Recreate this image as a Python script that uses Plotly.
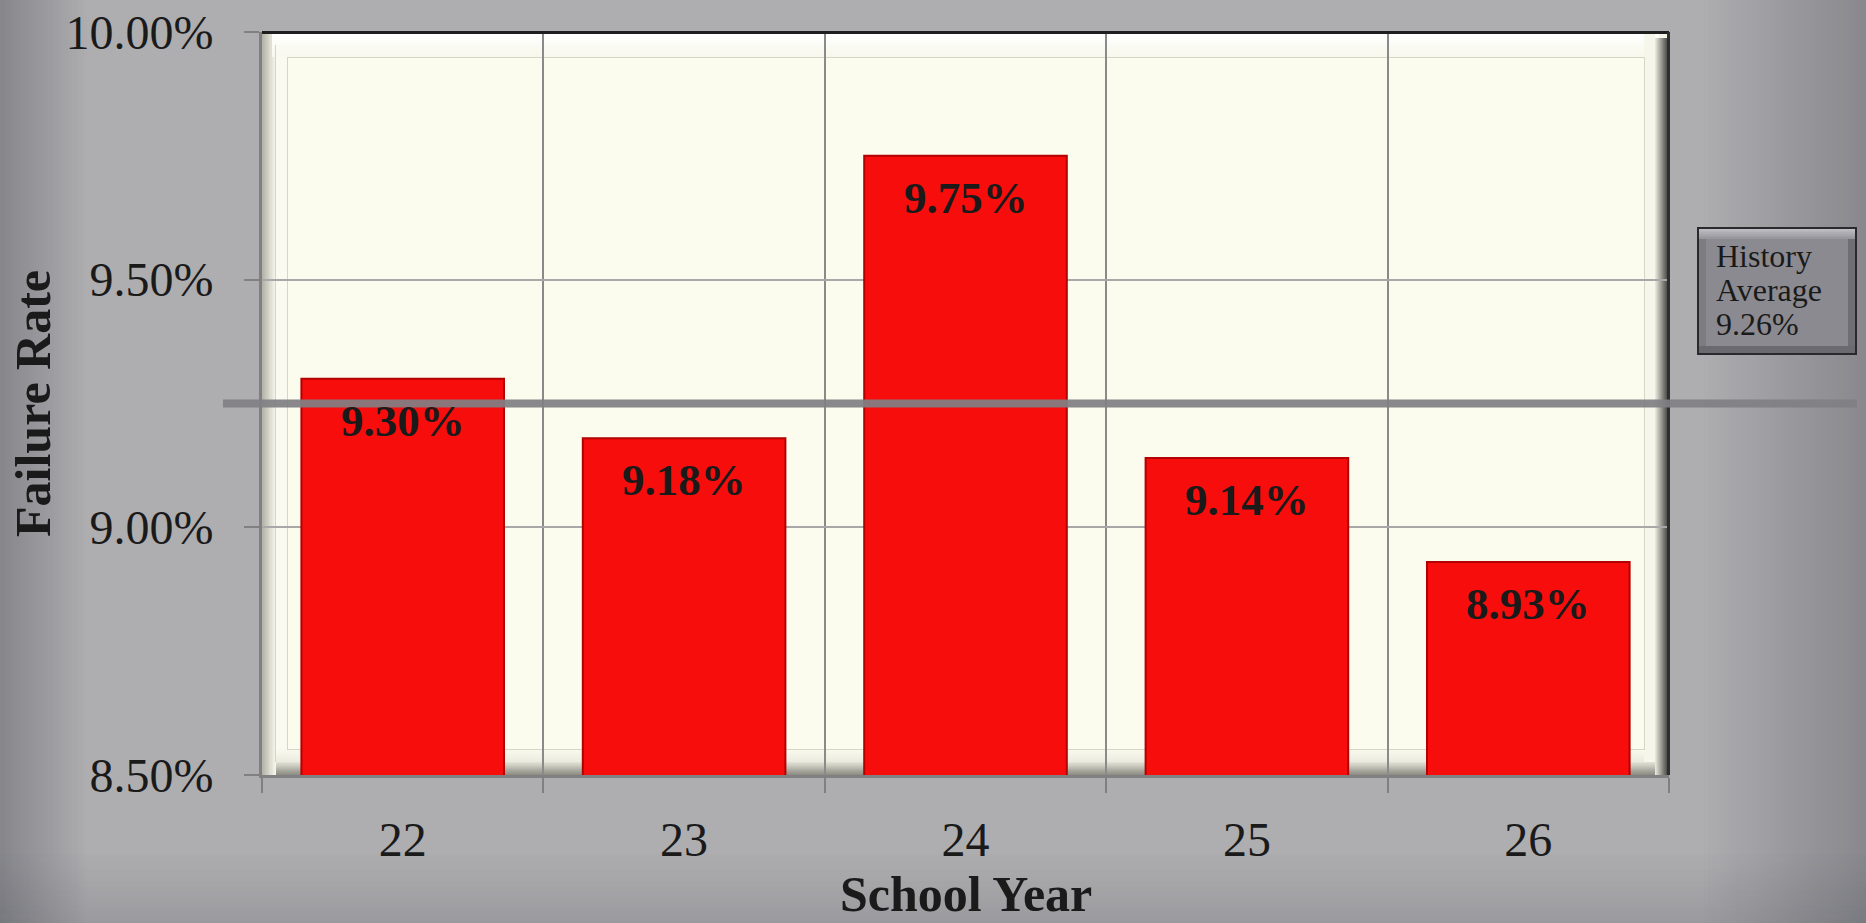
import plotly.graph_objects as go

# ---------------- data ----------------
school_years = ["22", "23", "24", "25", "26"]
failure_rate = [9.30, 9.18, 9.75, 9.14, 8.93]
y_tick_values = [8.5, 9.0, 9.5, 10.0]
y_tick_labels = ["8.50%", "9.00%", "9.50%", "10.00%"]
history_average = 9.26          # value shown in the side box
average_line = 9.25             # level of the drawn average line
x_title = "School Year"
y_title = "Failure Rate"
box_lines = ["History", "Average", f"{history_average:.2f}%"]

# ---------------- geometry / style ----------------
W, H = 1866, 923
L, R, T, B = 262, 1669, 32, 775
FONT = "Liberation Serif"
TXT = "#1a1a1a"


def px(x):
    """page pixel x -> plotly paper coordinate"""
    return (x - L) / (R - L)


def py(y):
    """page pixel y -> plotly paper coordinate"""
    return (B - y) / (B - T)


def hex2rgb(h):
    h = h.lstrip("#")
    return tuple(int(h[i:i + 2], 16) for i in (0, 2, 4))


def mix(c0, c1, t):
    a, b = hex2rgb(c0), hex2rgb(c1)
    return "rgb(%d,%d,%d)" % tuple(round(a[i] + (b[i] - a[i]) * t) for i in range(3))


shapes = []


def rect(x0, y0, x1, y1, fill, layer="below"):
    shapes.append(dict(type="rect", xref="paper", yref="paper",
                       x0=px(x0), x1=px(x1), y0=py(y0), y1=py(y1),
                       fillcolor=fill, line=dict(width=0), layer=layer))


def hgrad(x0, x1, y0, y1, c0, c1, n=16, layer="below"):
    step = (x1 - x0) / n
    for i in range(n):
        rect(x0 + i * step, y0, x0 + (i + 1) * step + 0.8, y1, mix(c0, c1, i / (n - 1)), layer)


def vgrad(x0, x1, y0, y1, c0, c1, n=16, layer="below"):
    step = (y1 - y0) / n
    for i in range(n):
        rect(x0, y0 + i * step, x1, y0 + (i + 1) * step + 0.8, mix(c0, c1, i / (n - 1)), layer)


BG = "#aeaeb0"
# page background gradients (darkening toward the edges)
hgrad(0, 90, 0, H, "#86868c", BG, n=30)
hgrad(1700, W, 0, H, BG, "#88888e", n=41)
# translucent bottom shading, integer 3-px strips without overlap
for i in range(24):
    y0 = 851 + 3 * i
    rect(0, y0, W, y0 + 3, "rgba(30,30,45,%.3f)" % (0.13 * i / 23))

# plot-area bevel frame
CREAM = "#fcfcee"
rect(L, T, R, B, "#f4f4e8")
hgrad(L, L + 14, T, B, "#b4b4aa", "#f6f6ea", n=10)          # left band
rect(L + 14, T, L + 26, B, "#fafaf0")
vgrad(L + 10, R - 10, T, T + 24, "#ffffff", "#f8f8ee", n=8)  # top band
vgrad(L + 14, R - 12, B - 26, B - 13, "#f8f8ec", "#ecece0", n=6)  # bottom band
vgrad(L + 14, R - 12, B - 13, B, "#e0e0d4", "#8e8e86", n=10)
rect(R - 25, T, R - 14, B - 13, "#f6f6ea")                 # right band
hgrad(R - 14, R, T + 6, B, "#e6e6da", "#3c3c3a", n=12)
for (x0, y0, x1, y1) in [(L + 25, T + 25, R - 24, T + 26), (L + 25, T + 25, L + 26, B - 25),
                         (R - 25, T + 25, R - 24, B - 25), (L + 25, B - 26, R - 24, B - 25),
                         (L + 13, T + 13, L + 14, B - 13)]:
    rect(x0, y0, x1, y1, "#d6d6c8")
rect(L + 26, T + 26, R - 25, B - 26, CREAM)
# top and right dark border
rect(L, T - 1, R, T + 2, "#1e1e1e", layer="above")
rect(R - 2, T, R + 1, B, "#2e2e2e", layer="above")

# History average box (bevelled)
bx0, by0, bx1, by1 = 1697, 227, 1857, 355
rect(bx0, by0, bx1, by1, "#2a2a2c", layer="above")
vgrad(bx0 + 2, bx1 - 2, by0 + 2, by0 + 12, "#bdbdc2", "#96969c", n=6, layer="above")
rect(bx0 + 2, by0 + 12, bx0 + 9, by1 - 2, "#7c7c82", layer="above")
rect(bx1 - 9, by0 + 12, bx1 - 2, by1 - 2, "#6e6e74", layer="above")
rect(bx0 + 2, by1 - 9, bx1 - 2, by1 - 2, "#6a6a70", layer="above")
rect(bx0 + 9, by0 + 12, bx1 - 9, by1 - 9, "#8a8a90", layer="above")

# average line
shapes.append(dict(type="line", xref="paper", yref="y",
                   x0=px(223), x1=px(1857), y0=average_line, y1=average_line,
                   line=dict(color="rgba(128,128,132,0.93)", width=8), layer="above"))

fig = go.Figure(go.Bar(
    x=school_years, y=failure_rate, width=0.72,
    marker=dict(color="#f80d0d", line=dict(color="#b30000", width=2)),
    hoverinfo="x+y",
))

annotations = []
for i, v in enumerate(failure_rate):
    annotations.append(dict(x=i, y=v, xref="x", yref="y", text=f"<b>{v:.2f}%</b>",
                            showarrow=False, yanchor="top", yshift=-15,
                            font=dict(family=FONT, size=45, color=TXT)))

annotations.append(dict(x=0.5, y=py(894), xref="paper", yref="paper",
                        text=f"<b>{x_title}</b>", showarrow=False,
                        xanchor="center", yanchor="middle",
                        font=dict(family=FONT, size=50, color=TXT)))
annotations.append(dict(x=px(33), y=py(403), xref="paper", yref="paper",
                        text=f"<b>{y_title}</b>", showarrow=False, textangle=-90,
                        xanchor="center", yanchor="middle",
                        font=dict(family=FONT, size=50, color=TXT)))
for k, line in enumerate(box_lines):
    annotations.append(dict(x=px(1714), y=py(256 + 34 * k), xref="paper", yref="paper",
                            text=line, showarrow=False, align="left",
                            xanchor="left", yanchor="middle",
                            font=dict(family=FONT, size=32, color=TXT)))

fig.update_layout(
    width=W, height=H, autosize=False,
    margin=dict(l=L, r=W - R, t=T, b=H - B, pad=0),
    paper_bgcolor=BG, plot_bgcolor=CREAM,
    showlegend=False, shapes=shapes, annotations=annotations,
    bargap=0.28,
    font=dict(family=FONT, color=TXT),
    xaxis=dict(type="category", range=[-0.5, len(school_years) - 0.5],
               tickson="boundaries", showgrid=True,
               gridcolor="#8a8a8a", gridwidth=2, tickangle=0,
               ticks="outside", ticklen=15, tickwidth=2, tickcolor="#808080",
               showline=True, linecolor="#808080", linewidth=3,
               tickfont=dict(family=FONT, size=48, color=TXT),
               ticklabelstandoff=20, automargin=False, fixedrange=True),
    yaxis=dict(range=[8.5, 10.0], tickmode="array", tickvals=y_tick_values,
               ticktext=y_tick_labels,
               showgrid=True, gridcolor="#a8a8a8", gridwidth=2, zeroline=False,
               ticks="outside", ticklen=15, tickwidth=2, tickcolor="#808080",
               showline=True, linecolor="#808080", linewidth=3,
               tickfont=dict(family=FONT, size=48, color=TXT),
               ticklabelstandoff=21, automargin=False, fixedrange=True),
)

fig.write_html("out.html", config={"displayModeBar": False},
               post_script="document.body.style.margin='0';document.body.style.overflow='hidden';")
